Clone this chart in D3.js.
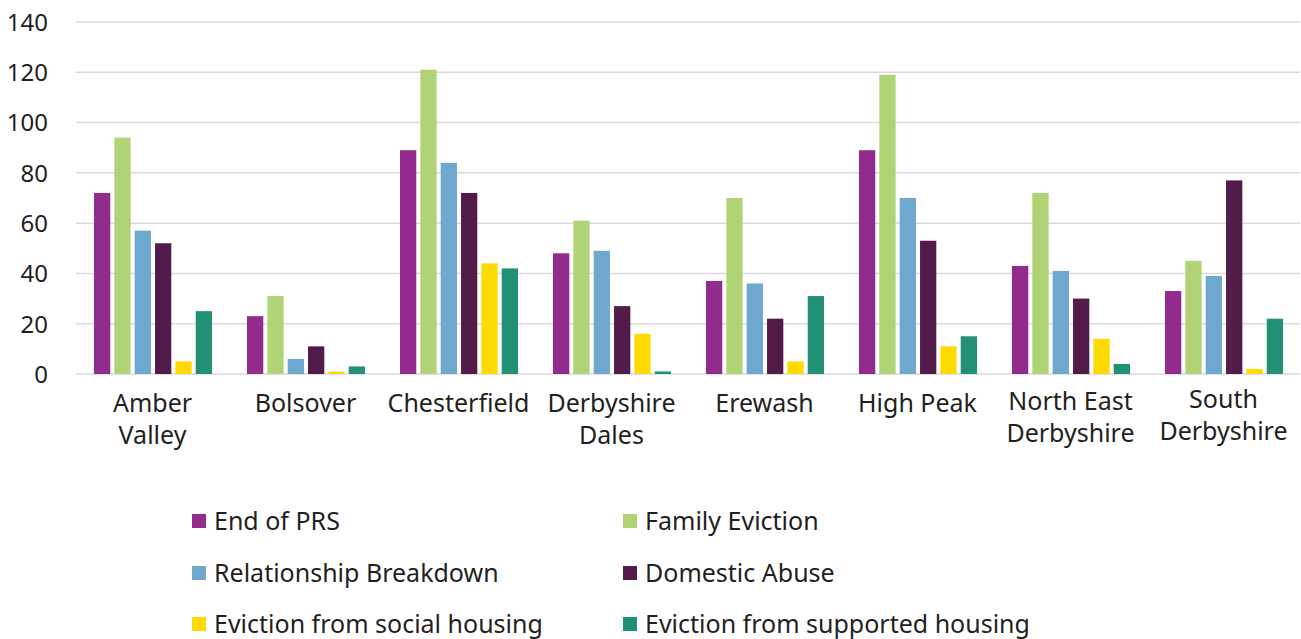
<!DOCTYPE html>
<html><head><meta charset="utf-8">
<script src="https://cdn.jsdelivr.net/npm/d3@7"></script>
<style>
html,body{margin:0;padding:0;background:#fff;}
svg{display:block;font-family:"Noto Sans",sans-serif;}
</style></head>
<body>
<svg id="chart" width="1301" height="639"></svg>
<script>
const categories = [["Amber","Valley"],["Bolsover"],["Chesterfield"],["Derbyshire","Dales"],["Erewash"],["High Peak"],["North East","Derbyshire"],["South","Derbyshire"]];
const seriesNames = ["End of PRS","Family Eviction","Relationship Breakdown","Domestic Abuse","Eviction from social housing","Eviction from supported housing"];
const seriesColors = ["#922b8c","#b0d376","#6ea8cf","#521b4a","#ffda00","#219074"];
const endOfPRS        = [72, 23, 89, 48, 37, 89, 43, 33];
const familyEviction  = [94, 31, 121, 61, 70, 119, 72, 45];
const relationship    = [57, 6, 84, 49, 36, 70, 41, 39];
const domesticAbuse   = [52, 11, 72, 27, 22, 53, 30, 77];
const socialHousing   = [5, 1, 44, 16, 5, 11, 14, 2];
const supportedHousing= [25, 3, 42, 1, 31, 15, 4, 22];
const yTicks = [0,20,40,60,80,100,120,140];

(function(){
const seriesValues = [endOfPRS, familyEviction, relationship, domesticAbuse, socialHousing, supportedHousing];
const svg = d3.select("#chart");
const mLeft = 76, mRight = 1300, mTop = 22, mBottom = 374;
const textColor = "#231f20";

const x = d3.scaleBand().domain(d3.range(categories.length)).range([mLeft, mRight]).padding(0);
const bw = x.bandwidth();
const xi = d3.scaleBand().domain(d3.range(seriesNames.length)).range([18/153*bw, 136/153*bw]).paddingInner(0.2).paddingOuter(0);
const y = d3.scaleLinear().domain([0,140]).range([mBottom, mTop]);

svg.append("g").selectAll("line").data(yTicks).join("line")
  .attr("x1", mLeft).attr("x2", mRight)
  .attr("y1", d => y(d)).attr("y2", d => y(d))
  .attr("stroke", "#d9d9d9").attr("stroke-width", 1.5);

const yAxis = d3.axisLeft(y).tickValues(yTicks).tickSize(0).tickPadding(0);
const ya = svg.append("g").attr("transform", `translate(48,0)`).call(yAxis);
ya.select(".domain").remove();
ya.selectAll("text").attr("font-size", 24).attr("fill", textColor).attr("font-family","Noto Sans").attr("dy","0.35em");

const groups = svg.append("g").selectAll("g").data(categories).join("g")
  .attr("transform", (d,i) => `translate(${x(i)},0)`);
groups.selectAll("rect").data((d,i) => seriesValues.map((s,j) => ({j, v: s[i]}))).join("rect")
  .attr("x", d => xi(d.j)).attr("width", xi.bandwidth())
  .attr("y", d => y(d.v)).attr("height", d => y(0) - y(d.v))
  .attr("fill", d => seriesColors[d.j]);

const xl = svg.append("g");
categories.forEach((lines, i) => {
  const cx = x(i) + bw/2;
  const shift = lines.length > 1 && i >= 6 ? (i === 7 ? -4 : -2) : 0;
  const t = xl.append("text").attr("x", cx).attr("y", 412 + shift)
    .attr("text-anchor", "middle").attr("font-size", 25).attr("fill", textColor);
  lines.forEach((ln, k) => {
    t.append("tspan").attr("x", cx).attr("dy", k === 0 ? 0 : 32).text(ln);
  });
});

const legCols = [192, 623], legRows = [521, 573, 624];
const leg = svg.append("g").selectAll("g").data(seriesNames).join("g")
  .attr("transform", (d,i) => `translate(${legCols[i%2]},${legRows[Math.floor(i/2)]})`);
leg.append("rect").attr("x", 0).attr("y", -7).attr("width", 14).attr("height", 14)
  .attr("fill", (d,i) => seriesColors[i]);
leg.append("text").attr("x", 22).attr("y", 0).attr("dy", "0.35em")
  .attr("font-size", 25).attr("fill", textColor).text(d => d);
})();
</script>
</body></html>
